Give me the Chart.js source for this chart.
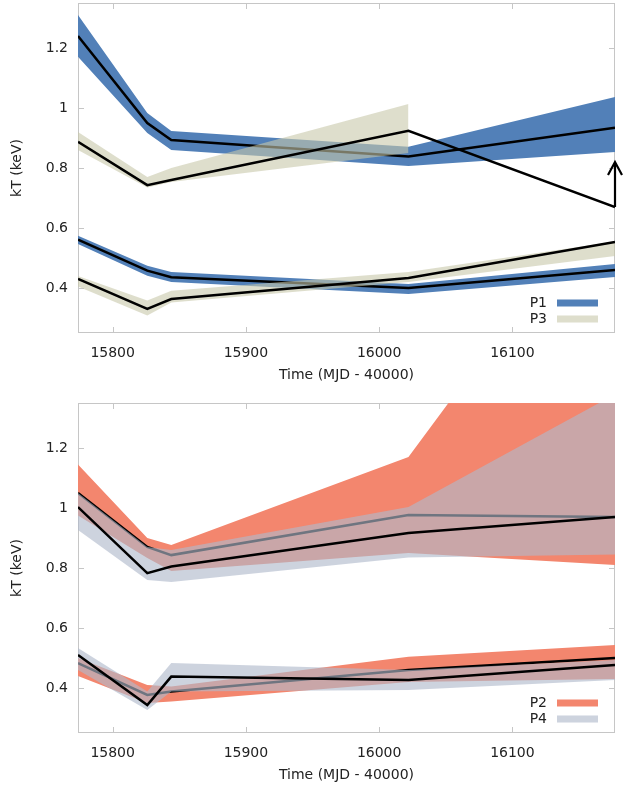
<!DOCTYPE html>
<html lang="en">
  <head>
    <meta charset="UTF-8" />
    <title>kT vs time</title>
    <script src="https://cdn.jsdelivr.net/npm/chart.js"></script>
    <style>
      body {
        margin: 0;
        background: #fff;
        width: 624px;
        height: 788px;
        overflow: hidden;
        position: relative;
      }
      .panel {
        position: absolute;
        left: 0;
        width: 624px;
        height: 390px;
      }
      #topPanel { top: 0; }
      #bottomPanel { top: 400px; }
    </style>
  </head>
  <body>
    <div class="panel" id="topPanel"><canvas id="topChart" width="624" height="390"></canvas></div>
    <div class="panel" id="bottomPanel"><canvas id="bottomChart" width="624" height="390"></canvas></div>

    <script>
      // observation times (MJD - 40000)
      const mjd = [15774, 15826, 15844, 16022, 16177];
      const xTicks = [15800, 15900, 16000, 16100];
      const yTicks = [0.4, 0.6, 0.8, 1, 1.2];
      const xRange = [15774, 16177];
      const yRange = [0.25, 1.35];

      // top panel: P1 / P3, hot and cool components
      const p1HotLine = [1.24, 0.95, 0.893, 0.838, 0.934];
      const p1HotHi = [1.31, 0.983, 0.923, 0.871, 1.037];
      const p1HotLo = [1.171, 0.917, 0.86, 0.807, 0.853];
      const p1CoolLine = [0.561, 0.458, 0.436, 0.4, 0.46];
      const p1CoolHi = [0.574, 0.474, 0.453, 0.413, 0.48];
      const p1CoolLo = [0.547, 0.441, 0.42, 0.38, 0.437];

      const p3HotLine = [0.887, 0.743, 0.76, 0.924, 0.67];
      const p3HotHi = [0.92, 0.77, 0.8, 1.013];
      const p3HotLo = [0.86, 0.735, 0.753, 0.85];
      const p3CoolLine = [0.43, 0.33, 0.363, 0.433, 0.553];
      const p3CoolHi = [0.44, 0.358, 0.391, 0.453, 0.555];
      const p3CoolLo = [0.405, 0.308, 0.352, 0.42, 0.507];
      const p3LimitArrow = [0.67, 0.82]; // lower limit at last epoch

      // bottom panel: P2 / P4
      const p2HotLine = [1.05, 0.87, 0.843, 0.977, 0.97];
      const p2HotHi = [1.145, 0.9, 0.877, 1.17, 2.1];
      const p2HotLo = [0.975, 0.833, 0.79, 0.85, 0.81];
      const p2CoolLine = [0.483, 0.377, 0.388, 0.46, 0.5];
      const p2CoolHi = [0.5, 0.41, 0.405, 0.504, 0.543];
      const p2CoolLo = [0.44, 0.35, 0.355, 0.42, 0.43];

      const p4HotLine = [1.003, 0.783, 0.805, 0.917, 0.97];
      const p4HotHi = [1.05, 0.87, 0.86, 1.003, 1.379];
      const p4HotLo = [0.927, 0.76, 0.753, 0.835, 0.845];
      const p4CoolLine = [0.51, 0.343, 0.438, 0.427, 0.477];
      const p4CoolHi = [0.533, 0.388, 0.483, 0.46, 0.493];
      const p4CoolLo = [0.46, 0.327, 0.388, 0.393, 0.427];

      const colors = {
        P1: "rgb(82,128,184)",
        P3: "rgba(200,200,170,0.6)",
        P2: "rgb(243,134,110)",
        P4: "rgba(176,186,203,0.63)",
      };

      const FONT = "'DejaVu Sans', sans-serif";

      function pts(values) {
        return values.map((v, i) => ({ x: mjd[i], y: v }));
      }

      function band(hi, lo, color, order) {
        return [
          { data: pts(hi), fill: "+1", backgroundColor: color, borderColor: "transparent", borderWidth: 0, pointRadius: 0, order },
          { data: pts(lo), fill: false, borderColor: "transparent", borderWidth: 0, pointRadius: 0, order },
        ];
      }

      function line(values, order) {
        return { data: pts(values), fill: false, borderColor: "#000", borderWidth: 2.5, pointRadius: 0, order };
      }

      // box with inward tick marks, gnuplot style
      const framePlugin = {
        id: "frame",
        beforeDatasetsDraw(chart) {
          const { ctx, chartArea: a, scales } = chart;
          ctx.save();
          ctx.strokeStyle = "#c6c6c6";
          ctx.lineWidth = 1;
          ctx.strokeRect(a.left + 0.5, a.top + 0.5, a.width - 1, a.height - 1);
          ctx.beginPath();
          xTicks.forEach((v) => {
            const px = Math.round(scales.x.getPixelForValue(v)) + 0.5;
            ctx.moveTo(px, a.bottom); ctx.lineTo(px, a.bottom - 6);
            ctx.moveTo(px, a.top); ctx.lineTo(px, a.top + 6);
          });
          yTicks.forEach((v) => {
            const py = Math.round(scales.y.getPixelForValue(v)) + 0.5;
            ctx.moveTo(a.left, py); ctx.lineTo(a.left + 6, py);
            ctx.moveTo(a.right, py); ctx.lineTo(a.right - 6, py);
          });
          ctx.stroke();
          ctx.restore();
        },
      };

      // legend box in the lower right corner of the plot
      const bandLegend = {
        id: "bandLegend",
        afterDraw(chart, args, opts) {
          const { ctx, chartArea: a } = chart;
          ctx.save();
          ctx.font = "14px " + FONT;
          ctx.textAlign = "right";
          ctx.textBaseline = "middle";
          opts.items.forEach((name, i) => {
            const y = a.bottom - 30 + i * 16;
            ctx.fillStyle = "#222";
            ctx.fillText(name, a.right - 68, y);
            ctx.fillStyle = colors[name];
            ctx.fillRect(a.right - 58, y - 3.5, 41, 7);
          });
          ctx.restore();
        },
      };

      // upward arrow marking a lower limit
      const arrowPlugin = {
        id: "limitArrow",
        afterDatasetsDraw(chart, args, opts) {
          if (!opts.values) return;
          const { ctx, scales } = chart;
          const x = scales.x.getPixelForValue(opts.x);
          const y0 = scales.y.getPixelForValue(opts.values[0]);
          const y1 = scales.y.getPixelForValue(opts.values[1]);
          ctx.save();
          ctx.strokeStyle = "#000";
          ctx.lineWidth = 2.2;
          ctx.beginPath();
          ctx.moveTo(x, y0); ctx.lineTo(x, y1);
          ctx.moveTo(x - 7, y1 + 13); ctx.lineTo(x, y1); ctx.lineTo(x + 7, y1 + 13);
          ctx.stroke();
          ctx.restore();
        },
      };

      function makeChart(id, datasets, legendItems, arrow) {
        return new Chart(document.getElementById(id), {
          type: "line",
          data: { datasets },
          options: {
            responsive: false,
            animation: false,
            devicePixelRatio: 1,
            layout: { padding: { left: 0, right: 9, top: 3, bottom: 0 } },
            plugins: {
              legend: { display: false },
              tooltip: { enabled: false },
              bandLegend: { items: legendItems },
              limitArrow: arrow || {},
            },
            scales: {
              x: {
                type: "linear",
                min: xRange[0],
                max: xRange[1],
                afterBuildTicks: (s) => { s.ticks = xTicks.map((v) => ({ value: v })); },
                afterFit: (s) => {
                  s.height = 57;
                  s.paddingLeft = 0;
                  s.paddingRight = 0;
                },
                grid: { display: false, drawTicks: false },
                border: { display: false },
                ticks: { padding: 12, color: "#222", maxRotation: 0, font: { size: 14, family: FONT }, callback: (v) => String(v) },
                title: { display: true, text: "Time (MJD - 40000)", color: "#222", font: { size: 14, family: FONT }, padding: { top: 0, bottom: 6 } },
              },
              y: {
                type: "linear",
                min: yRange[0],
                max: yRange[1],
                afterBuildTicks: (s) => { s.ticks = yTicks.map((v) => ({ value: v })); },
                afterFit: (s) => {
                  s.width = 78;
                  s.paddingTop = 0;
                  s.paddingBottom = 0;
                },
                grid: { display: false, drawTicks: false },
                border: { display: false },
                ticks: { padding: 10, color: "#222", font: { size: 14, family: FONT }, callback: (v) => String(v) },
                title: { display: true, text: "kT (keV)", color: "#222", font: { size: 14, family: FONT }, padding: { top: 9, bottom: 0 } },
              },
            },
          },
          plugins: [framePlugin, bandLegend, arrowPlugin],
        });
      }

      makeChart(
        "topChart",
        [
          ...band(p1HotHi, p1HotLo, colors.P1, 6),
          ...band(p1CoolHi, p1CoolLo, colors.P1, 6),
          line(p1HotLine, 5),
          line(p1CoolLine, 5),
          ...band(p3HotHi, p3HotLo, colors.P3, 4),
          ...band(p3CoolHi, p3CoolLo, colors.P3, 4),
          line(p3HotLine, 3),
          line(p3CoolLine, 3),
        ],
        ["P1", "P3"],
        { x: mjd[mjd.length - 1], values: p3LimitArrow }
      );

      makeChart(
        "bottomChart",
        [
          ...band(p2HotHi, p2HotLo, colors.P2, 6),
          ...band(p2CoolHi, p2CoolLo, colors.P2, 6),
          line(p2HotLine, 5),
          line(p2CoolLine, 5),
          ...band(p4HotHi, p4HotLo, colors.P4, 4),
          ...band(p4CoolHi, p4CoolLo, colors.P4, 4),
          line(p4HotLine, 3),
          line(p4CoolLine, 3),
        ],
        ["P2", "P4"]
      );
    </script>
  </body>
</html>
